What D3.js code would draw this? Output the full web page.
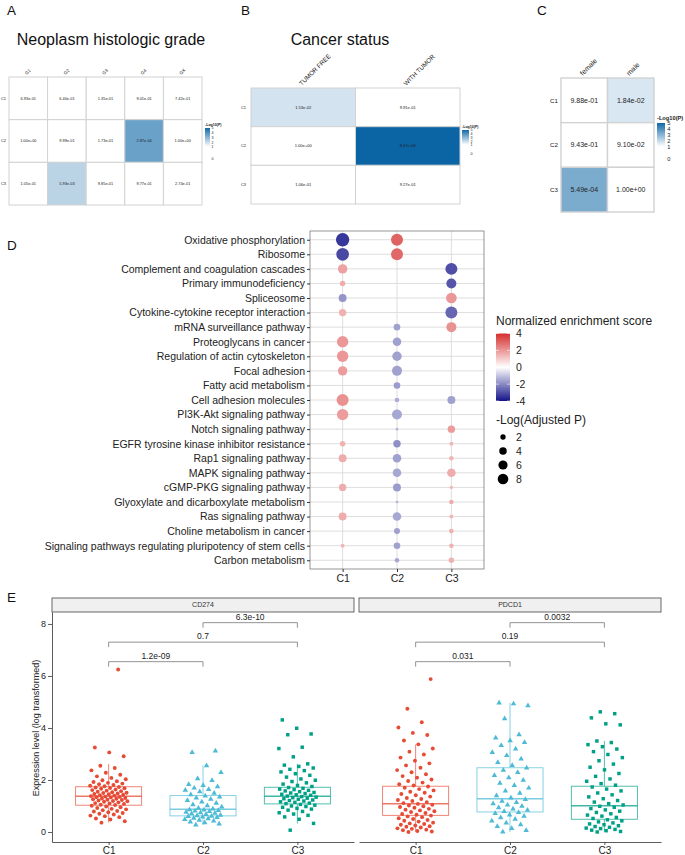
<!DOCTYPE html>
<html>
<head>
<meta charset="utf-8">
<script src="https://cdn.jsdelivr.net/npm/d3@7"></script>
<style>
  body { margin: 0; background: #fff; }
  svg { font-family: "Liberation Sans", Arial, Helvetica, sans-serif; }
</style>
</head>
<body>
<div id="chart"></div>
<script>
// ---- data: panels A-C (p values of cluster vs clinical feature)
const clusters = ['C1', 'C2', 'C3'];
const gradeCols = ['G1', 'G2', 'G3', 'G4', 'GX'];
const gradeP = [
    ['6.93e-01', '6.40e-01', '1.35e-01', '9.01e-01', '7.42e-01'],
    ['1.00e+00', '9.99e-01', '1.73e-01', '2.87e-04', '1.00e+00'],
    ['1.05e-01', '5.93e-03', '9.85e-01', '9.77e-01', '2.74e-01'],
];
const statusCols = ['TUMOR FREE', 'WITH TUMOR'];
const statusP = [
    ['1.53e-02', '9.91e-01'],
    ['1.00e+00', '8.07e-06'],
    ['1.06e-01', '9.27e-01'],
];
const genderCols = ['female', 'male'];
const genderP = [
    ['9.88e-01', '1.84e-02'],
    ['9.43e-01', '9.10e-02'],
    ['5.49e-04', '1.00e+00'],
];
const heatTicks = [0, 1, 2, 3, 4, 5];

// ---- data: panel D (GSEA dot plot), one row per pathway, columns C1..C3
const pathways = [
    'Oxidative phosphorylation', 'Ribosome', 'Complement and coagulation cascades',
    'Primary immunodeficiency', 'Spliceosome', 'Cytokine-cytokine receptor interaction',
    'mRNA surveillance pathway', 'Proteoglycans in cancer', 'Regulation of actin cytoskeleton',
    'Focal adhesion', 'Fatty acid metabolism', 'Cell adhesion molecules',
    'PI3K-Akt signaling pathway', 'Notch signaling pathway', 'EGFR tyrosine kinase inhibitor resistance',
    'Rap1 signaling pathway', 'MAPK signaling pathway', 'cGMP-PKG signaling pathway',
    'Glyoxylate and dicarboxylate metabolism', 'Ras signaling pathway', 'Choline metabolism in cancer',
    'Signaling pathways regulating pluripotency of stem cells', 'Carbon metabolism',
];
const nes = [
    [-3.4, 3.0, null], [-3.1, 2.9, null], [1.8, null, -3.0], [1.6, null, -2.9],
    [-1.8, null, 2.0], [1.5, null, -2.6], [null, -1.6, 2.1], [2.0, -1.6, null],
    [2.0, -1.6, null], [1.9, -1.6, null], [null, -1.7, null], [2.1, -1.4, -1.6],
    [1.9, -1.5, null], [null, -1.3, 1.9], [1.5, -1.9, 1.4], [1.6, -1.6, 1.4],
    [null, -1.5, 1.6], [1.6, -1.7, 1.4], [null, -1.3, 1.6], [1.6, -1.5, 1.4],
    [null, -1.6, 1.5], [1.4, -1.6, 1.5], [null, -1.5, 1.5],
];
const logAdjP = [
    [12.7, 10.2, null], [11.4, 10.2, null], [6.3, null, 10.2], [2.1, null, 7.1],
    [4.5, null, 8.0], [3.9, null, 10.2], [null, 3.1, 7.1], [9.2, 5.2, null],
    [9.2, 6.3, null], [6.3, 7.1, null], [null, 3.1, null], [10.2, 1.5, 4.5],
    [9.2, 7.1, null], [null, 0.5, 3.9], [2.1, 3.9, 1.1], [4.5, 5.2, 1.5],
    [null, 5.2, 5.2], [3.9, 4.5, 0.8], [null, 0.5, 1.5], [4.5, 5.2, 1.1],
    [null, 2.6, 1.5], [1.1, 3.1, 1.5], [null, 1.5, 2.1],
];
const nesTicks = [4, 2, 0, -2, -4];
const sizeTicks = [2, 4, 6, 8];

// ---- data: panel E (expression boxplots)
const genes = ['CD274', 'PDCD1'];
const boxQ1 = [[1.03, 0.62, 1.08], [0.64, 0.77, 0.49]];
const boxMed = [[1.37, 0.87, 1.37], [1.09, 1.28, 1.01]];
const boxQ3 = [[1.74, 1.40, 1.72], [1.76, 2.47, 1.76]];
const whiskLo = [[0.36, 0.27, 0.33], [0.00, 0.00, 0.00]];
const whiskHi = [[2.62, 2.55, 2.62], [3.37, 4.96, 3.50]];
const exprCD274 = [
    [0.36, 0.41, 0.48, 0.52, 0.57, 0.61, 0.63, 0.67, 0.70, 0.73, 0.76, 0.79, 0.81, 0.84, 0.87, 0.89, 0.92, 0.95, 0.98, 1.01,
     1.04, 1.05, 1.08, 1.10, 1.11, 1.14, 1.16, 1.18, 1.19, 1.21, 1.23, 1.24, 1.26, 1.28, 1.29, 1.31, 1.33, 1.34, 1.35, 1.36,
     1.38, 1.40, 1.41, 1.43, 1.45, 1.46, 1.48, 1.50, 1.51, 1.53, 1.55, 1.57, 1.59, 1.61, 1.63, 1.66, 1.68, 1.69, 1.71, 1.73,
     1.76, 1.78, 1.81, 1.84, 1.86, 1.89, 1.92, 1.95, 1.99, 2.03, 2.08, 2.14, 2.20, 2.28, 2.37, 2.46, 2.55, 2.91, 3.06, 3.25, 6.25],
    [0.27, 0.31, 0.36, 0.39, 0.43, 0.45, 0.48, 0.51, 0.53, 0.56, 0.58, 0.60, 0.61,
     0.63, 0.65, 0.68, 0.70, 0.72, 0.74, 0.76, 0.79, 0.81, 0.83, 0.85, 0.86,
     0.89, 0.92, 0.96, 1.01, 1.05, 1.11, 1.16, 1.21, 1.26, 1.31, 1.35, 1.39,
     1.44, 1.49, 1.55, 1.61, 1.64, 1.69, 1.74, 1.79, 1.83, 1.98, 2.05, 2.29, 2.55, 3.06, 3.12],
    [0.07, 0.33, 0.49, 0.58, 0.64, 0.69, 0.74, 0.79, 0.84, 0.88, 0.91, 0.95, 0.98, 1.00, 1.03, 1.06,
     1.09, 1.11, 1.14, 1.16, 1.19, 1.21, 1.23, 1.26, 1.28, 1.30, 1.32, 1.34, 1.36,
     1.38, 1.41, 1.43, 1.45, 1.48, 1.50, 1.52, 1.55, 1.58, 1.60, 1.63, 1.65, 1.68, 1.71,
     1.75, 1.79, 1.84, 1.89, 1.94, 1.99, 2.04, 2.11, 2.18, 2.24, 2.31, 2.36, 2.41, 2.46, 2.52, 2.57, 2.62,
     2.89, 3.21, 3.26, 3.74, 3.77, 3.99, 4.31],
];
const exprPDCD1 = [
    [0.00, 0.02, 0.04, 0.07, 0.09, 0.12, 0.14, 0.17, 0.20, 0.22, 0.25, 0.28, 0.31, 0.33, 0.36, 0.40, 0.43, 0.46, 0.50, 0.53, 0.57, 0.60, 0.63,
     0.66, 0.69, 0.73, 0.77, 0.80, 0.83, 0.86, 0.89, 0.93, 0.96, 0.99, 1.02, 1.05, 1.08,
     1.11, 1.15, 1.19, 1.23, 1.27, 1.31, 1.36, 1.41, 1.46, 1.51, 1.55, 1.60, 1.65, 1.70, 1.75,
     1.79, 1.84, 1.90, 1.96, 2.02, 2.09, 2.15, 2.22, 2.30, 2.38, 2.47, 2.56, 2.64, 2.74, 2.86, 2.98, 3.09, 3.21, 3.37,
     3.52, 3.73, 3.81, 4.02, 4.22, 4.74, 5.88],
    [0.00, 0.06, 0.14, 0.21, 0.28, 0.35, 0.43, 0.49, 0.55, 0.61, 0.66, 0.71, 0.75,
     0.79, 0.84, 0.89, 0.94, 0.99, 1.04, 1.09, 1.14, 1.19, 1.25,
     1.31, 1.40, 1.49, 1.58, 1.69, 1.79, 1.88, 1.99, 2.09, 2.18, 2.29, 2.38, 2.46,
     2.56, 2.68, 2.81, 2.94, 3.06, 3.19, 3.33, 3.44, 3.51, 3.62, 3.74, 4.36, 4.86, 4.93, 4.96],
    [0.00, 0.02, 0.05, 0.07, 0.10, 0.13, 0.15, 0.18, 0.21, 0.24, 0.28, 0.31, 0.35, 0.39, 0.43, 0.47,
     0.52, 0.56, 0.61, 0.65, 0.70, 0.75, 0.80, 0.85, 0.90, 0.95, 0.99,
     1.04, 1.09, 1.15, 1.21, 1.28, 1.35, 1.43, 1.50, 1.58, 1.65, 1.73,
     1.80, 1.86, 1.95, 2.04, 2.14, 2.25, 2.39, 2.49, 2.61, 2.74, 2.86, 2.98, 3.09, 3.19, 3.28, 3.36, 3.44, 3.50,
     4.12, 4.16, 4.39, 4.55, 4.62],
];
const comparisons = [['C1', 'C2'], ['C1', 'C3'], ['C2', 'C3']];
const compareY = [6.55, 7.3, 8.05];
const compareP = [['1.2e-09', '0.7', '6.3e-10'], ['0.031', '0.19', '0.0032']];
const exprTicks = [0, 2, 4, 6, 8];

const clusterColors = ['#E64B35', '#4DBBD5', '#00A087'];
const textCol = '#222';
const fontFam = '"Liberation Sans", Arial, Helvetica, sans-serif';

const svg = d3.select('#chart').append('svg')
    .attr('width', 685)
    .attr('height', 855);
const defs = svg.append('defs');

// panel letters
[['A', 7, 15], ['B', 241, 15], ['C', 537, 15], ['D', 7, 250], ['E', 7, 602]].forEach(([t, x, y]) => {
    svg.append('text').attr('x', x).attr('y', y).attr('font-size', 13.5).attr('fill', '#111').text(t);
});

// ---------- heatmaps A, B, C
const heatColor = d3.scaleLinear()
    .domain([0, 1.1, 5.1])
    .range(['#ffffff', '#ffffff', '#0b65a5'])
    .clamp(true);

function heatmap(cfg) {
    const g = svg.append('g');
    const x = d3.scaleBand().domain(cfg.cols).range([cfg.left, cfg.right]);
    const y = d3.scaleBand().domain(clusters).range([cfg.top, cfg.bottom]);
    const cells = [];
    cfg.pvals.forEach((row, i) => row.forEach((p, j) => cells.push({ r: clusters[i], c: cfg.cols[j], p })));

    g.selectAll('rect.cell').data(cells).join('rect')
        .attr('class', 'cell')
        .attr('x', d => x(d.c))
        .attr('y', d => y(d.r))
        .attr('width', x.bandwidth())
        .attr('height', y.bandwidth())
        .attr('fill', d => heatColor(-Math.log10(+d.p)))
        .attr('stroke', '#d2d2d2')
        .attr('stroke-width', cfg.sw);
    g.selectAll('text.val').data(cells).join('text')
        .attr('class', 'val')
        .attr('x', d => x(d.c) + x.bandwidth() / 2)
        .attr('y', d => y(d.r) + y.bandwidth() / 2)
        .attr('dy', '0.35em')
        .attr('text-anchor', 'middle')
        .attr('font-size', cfg.fsCell)
        .attr('fill', textCol)
        .text(d => d.p);
    g.selectAll('text.row').data(clusters).join('text')
        .attr('class', 'row')
        .attr('x', cfg.left - cfg.rowGap)
        .attr('y', d => y(d) + y.bandwidth() / 2)
        .attr('dy', '0.35em')
        .attr('text-anchor', 'end')
        .attr('font-size', cfg.fsRow)
        .attr('fill', textCol)
        .text(d => d);
    g.selectAll('text.col').data(cfg.cols).join('text')
        .attr('class', 'col')
        .attr('transform', d => `translate(${x(d) + x.bandwidth() / 2 - 1.5},${cfg.top - 2}) rotate(-45)`)
        .attr('font-size', cfg.fsCol)
        .attr('fill', textCol)
        .text(d => d);

    // legend
    const L = cfg.leg;
    const ly = d3.scaleLinear().domain([0, 1, 5]).range([L.y0, L.y1, L.y5]);
    const id = 'hg' + cfg.key;
    const grad = defs.append('linearGradient').attr('id', id)
        .attr('x1', 0).attr('y1', 0).attr('x2', 0).attr('y2', 1);
    d3.range(5, -0.01, -0.25).forEach(v => {
        grad.append('stop')
            .attr('offset', (ly(v) - L.y5) / (L.y0 - L.y5))
            .attr('stop-color', heatColor(v));
    });
    g.append('rect')
        .attr('x', L.x).attr('y', L.y5)
        .attr('width', L.w).attr('height', L.y0 - L.y5)
        .attr('fill', `url(#${id})`);
    g.append('text')
        .attr('x', L.x).attr('y', L.y5 - L.fs * 0.6)
        .attr('font-size', L.fs).attr('font-weight', 'bold').attr('fill', textCol)
        .text('-Log10(P)');
    g.selectAll('text.lt').data(heatTicks).join('text')
        .attr('class', 'lt')
        .attr('x', L.x + L.w + L.fs * 0.4)
        .attr('y', d => ly(d))
        .attr('dy', '0.35em')
        .attr('font-size', L.fs)
        .attr('fill', textCol)
        .text(d => d);
}

svg.append('text').attr('x', 111).attr('y', 45).attr('text-anchor', 'middle')
    .attr('font-size', 16).attr('fill', '#111').text('Neoplasm histologic grade');
svg.append('text').attr('x', 340).attr('y', 45).attr('text-anchor', 'middle')
    .attr('font-size', 16).attr('fill', '#111').text('Cancer status');

heatmap({
    key: 'a', cols: gradeCols, pvals: gradeP,
    left: 9, right: 202, top: 77, bottom: 205, sw: 1,
    fsCell: 3.9, fsRow: 4, fsCol: 4.5, rowGap: 3,
    leg: { x: 205, w: 5, y5: 128, y1: 147, y0: 159, fs: 3.6 },
});
heatmap({
    key: 'b', cols: statusCols, pvals: statusP,
    left: 251, right: 460, top: 88, bottom: 204, sw: 1,
    fsCell: 4.1, fsRow: 4, fsCol: 6.3, rowGap: 5,
    leg: { x: 462, w: 7, y5: 130, y1: 145, y0: 154, fs: 3.6 },
});
heatmap({
    key: 'c', cols: genderCols, pvals: genderP,
    left: 561, right: 654, top: 78, bottom: 212, sw: 1.4,
    fsCell: 7, fsRow: 6.2, fsCol: 7, rowGap: 3,
    leg: { x: 657, w: 8, y5: 123, y1: 147, y0: 159, fs: 5.7 },
});

// ---------- panel D dot plot
const D = { left: 310, right: 484, top: 231, bottom: 569 };
const dx = d3.scalePoint().domain(clusters).range([D.left, D.right]).padding(0.6);
const dy = d3.scalePoint().domain(pathways).range([D.top, D.bottom]).padding(0.6);
const nesColor = d3.scaleLinear()
    .domain([-4, 0, 4])
    .range(['#141489', '#ffffff', '#d62f2f'])
    .interpolate(d3.interpolateRgb)
    .clamp(true);
const rScale = d3.scaleSqrt().domain([0, 12]).range([0, 6.5]);

const gD = svg.append('g');
gD.selectAll('line.hg').data(pathways).join('line')
    .attr('class', 'hg')
    .attr('x1', D.left).attr('x2', D.right)
    .attr('y1', d => dy(d)).attr('y2', d => dy(d))
    .attr('stroke', '#dadada').attr('stroke-width', 0.9);
gD.selectAll('line.vg').data(clusters).join('line')
    .attr('class', 'vg')
    .attr('y1', D.top).attr('y2', D.bottom)
    .attr('x1', d => dx(d)).attr('x2', d => dx(d))
    .attr('stroke', '#dadada').attr('stroke-width', 0.9);

const dots = [];
pathways.forEach((p, i) => clusters.forEach((c, j) => {
    if (nes[i][j] !== null) dots.push({ p, c, nes: nes[i][j], s: logAdjP[i][j] });
}));
gD.selectAll('circle.dot').data(dots).join('circle')
    .attr('class', 'dot')
    .attr('cx', d => dx(d.c))
    .attr('cy', d => dy(d.p))
    .attr('r', d => rScale(d.s))
    .attr('fill', d => nesColor(d.nes));

gD.append('rect')
    .attr('x', D.left).attr('y', D.top)
    .attr('width', D.right - D.left).attr('height', D.bottom - D.top)
    .attr('fill', 'none').attr('stroke', '#7a7a7a').attr('stroke-width', 0.8);

const dAxisL = gD.append('g').attr('transform', `translate(${D.left},0)`)
    .call(d3.axisLeft(dy).tickSize(3).tickPadding(2));
const dAxisB = gD.append('g').attr('transform', `translate(0,${D.bottom})`)
    .call(d3.axisBottom(dx).tickSize(3).tickPadding(3));
[dAxisL, dAxisB].forEach(a => {
    a.select('.domain').remove();
    a.selectAll('line').attr('stroke', '#333');
    a.selectAll('text').attr('font-size', 10.5).attr('fill', textCol).attr('font-family', fontFam);
});

// legend D
const lgX = 496;
svg.append('text').attr('x', lgX).attr('y', 325).attr('font-size', 12).attr('fill', textCol)
    .text('Normalized enrichment score');
const nesY = d3.scaleLinear().domain([-4, 4]).range([401, 333.5]);
const ng = defs.append('linearGradient').attr('id', 'nesGrad')
    .attr('x1', 0).attr('y1', 0).attr('x2', 0).attr('y2', 1);
d3.range(4, -4.01, -0.5).forEach(v => {
    ng.append('stop').attr('offset', (4 - v) / 8).attr('stop-color', nesColor(v));
});
svg.append('rect').attr('x', lgX).attr('y', nesY(4)).attr('width', 14)
    .attr('height', nesY(-4) - nesY(4)).attr('fill', 'url(#nesGrad)');
svg.selectAll('line.nt').data(nesTicks).join('line')
    .attr('class', 'nt')
    .attr('x1', lgX).attr('x2', lgX + 3)
    .attr('y1', d => nesY(d)).attr('y2', d => nesY(d))
    .attr('stroke', '#fff').attr('stroke-width', 0.6);
svg.selectAll('line.nt2').data(nesTicks).join('line')
    .attr('class', 'nt2')
    .attr('x1', lgX + 11).attr('x2', lgX + 14)
    .attr('y1', d => nesY(d)).attr('y2', d => nesY(d))
    .attr('stroke', '#fff').attr('stroke-width', 0.6);
svg.selectAll('text.ntl').data(nesTicks).join('text')
    .attr('class', 'ntl')
    .attr('x', lgX + 20).attr('y', d => nesY(d))
    .attr('dy', '0.35em').attr('font-size', 10.5).attr('fill', textCol)
    .text(d => d);

svg.append('text').attr('x', lgX).attr('y', 424).attr('font-size', 12).attr('fill', textCol)
    .text('-Log(Adjusted P)');
svg.selectAll('circle.sl').data(sizeTicks).join('circle')
    .attr('class', 'sl')
    .attr('cx', lgX + 7).attr('cy', (d, i) => 437 + i * 14)
    .attr('r', d => rScale(d)).attr('fill', '#000');
svg.selectAll('text.sll').data(sizeTicks).join('text')
    .attr('class', 'sll')
    .attr('x', lgX + 20).attr('y', (d, i) => 437 + i * 14)
    .attr('dy', '0.35em').attr('font-size', 10.5).attr('fill', textCol)
    .text(d => d);

// ---------- panel E boxplots
const E = { top: 612, bottom: 842, stripTop: 598, width: 302, lefts: [52, 359] };
const eY = d3.scaleLinear().domain([-0.385, 8.46]).range([E.bottom, E.top]);
const exprData = [exprCD274, exprPDCD1];
const shapes = [d3.symbolCircle, d3.symbolTriangle, d3.symbolSquare];
const jitter = i => ((i * 0.618034 + 0.31) % 1) - 0.5;

genes.forEach((gene, gi) => {
    const left = E.lefts[gi];
    const right = left + E.width;
    const ex = d3.scalePoint().domain(clusters).range([left, right]).padding(0.6);
    const step = ex.step();
    const g = svg.append('g');

    g.append('rect')
        .attr('x', left).attr('y', E.stripTop)
        .attr('width', E.width).attr('height', E.top - E.stripTop)
        .attr('fill', '#f0f0f0').attr('stroke', '#444').attr('stroke-width', 0.8);
    g.append('text')
        .attr('x', (left + right) / 2).attr('y', (E.stripTop + E.top) / 2)
        .attr('dy', '0.35em').attr('text-anchor', 'middle')
        .attr('font-size', 7).attr('fill', '#333').text(gene);

    clusters.forEach((c, ci) => {
        const cx = ex(c);
        const bw = step * 0.7;
        const col = clusterColors[ci];
        const bg = g.append('g').attr('stroke', col).attr('stroke-opacity', 0.75).attr('fill', 'none');
        bg.append('line').attr('x1', cx).attr('x2', cx)
            .attr('y1', eY(whiskHi[gi][ci])).attr('y2', eY(boxQ3[gi][ci])).attr('stroke-width', 0.9);
        bg.append('line').attr('x1', cx).attr('x2', cx)
            .attr('y1', eY(boxQ1[gi][ci])).attr('y2', eY(whiskLo[gi][ci])).attr('stroke-width', 0.9);
        bg.append('rect')
            .attr('x', cx - bw / 2).attr('y', eY(boxQ3[gi][ci]))
            .attr('width', bw).attr('height', eY(boxQ1[gi][ci]) - eY(boxQ3[gi][ci]))
            .attr('stroke-width', 0.9);
        bg.append('line').attr('x1', cx - bw / 2).attr('x2', cx + bw / 2)
            .attr('y1', eY(boxMed[gi][ci])).attr('y2', eY(boxMed[gi][ci])).attr('stroke-width', 1.5);

        g.selectAll(null).data(exprData[gi][ci]).join('path')
            .attr('d', d3.symbol(shapes[ci], ci === 1 ? 13 : 12))
            .attr('transform', (v, i) => `translate(${cx + jitter(i) * 0.4 * step},${eY(v)})`)
            .attr('fill', col);
    });

    comparisons.forEach((pair, k) => {
        const x1 = ex(pair[0]);
        const x2 = ex(pair[1]);
        const yy = eY(compareY[k]);
        g.append('path')
            .attr('d', `M${x1},${yy + 5}V${yy}H${x2}V${yy + 5}`)
            .attr('fill', 'none').attr('stroke', '#777').attr('stroke-width', 0.8);
        g.append('text')
            .attr('x', (x1 + x2) / 2).attr('y', yy - 3)
            .attr('text-anchor', 'middle').attr('font-size', 8.5).attr('fill', textCol)
            .text(compareP[gi][k]);
    });

    const xa = g.append('g').attr('transform', `translate(0,${E.bottom})`)
        .call(d3.axisBottom(ex).tickSize(3).tickSizeOuter(0).tickPadding(1.5));
    xa.selectAll('text').attr('font-size', 10).attr('fill', textCol).attr('font-family', fontFam);
    xa.selectAll('line, path').attr('stroke', '#333').attr('stroke-width', 0.8);

    if (gi === 0) {
        const ya = g.append('g').attr('transform', `translate(${left},0)`)
            .call(d3.axisLeft(eY).tickValues(exprTicks).tickSize(4).tickSizeOuter(0).tickPadding(2));
        ya.selectAll('text').attr('font-size', 9).attr('fill', textCol).attr('font-family', fontFam);
        ya.selectAll('line, path').attr('stroke', '#333').attr('stroke-width', 0.8);
    }
});

svg.append('text')
    .attr('transform', 'translate(39,728) rotate(-90)')
    .attr('text-anchor', 'middle').attr('font-size', 9).attr('fill', textCol)
    .text('Expression level (log transformed)');
</script>
</body>
</html>
